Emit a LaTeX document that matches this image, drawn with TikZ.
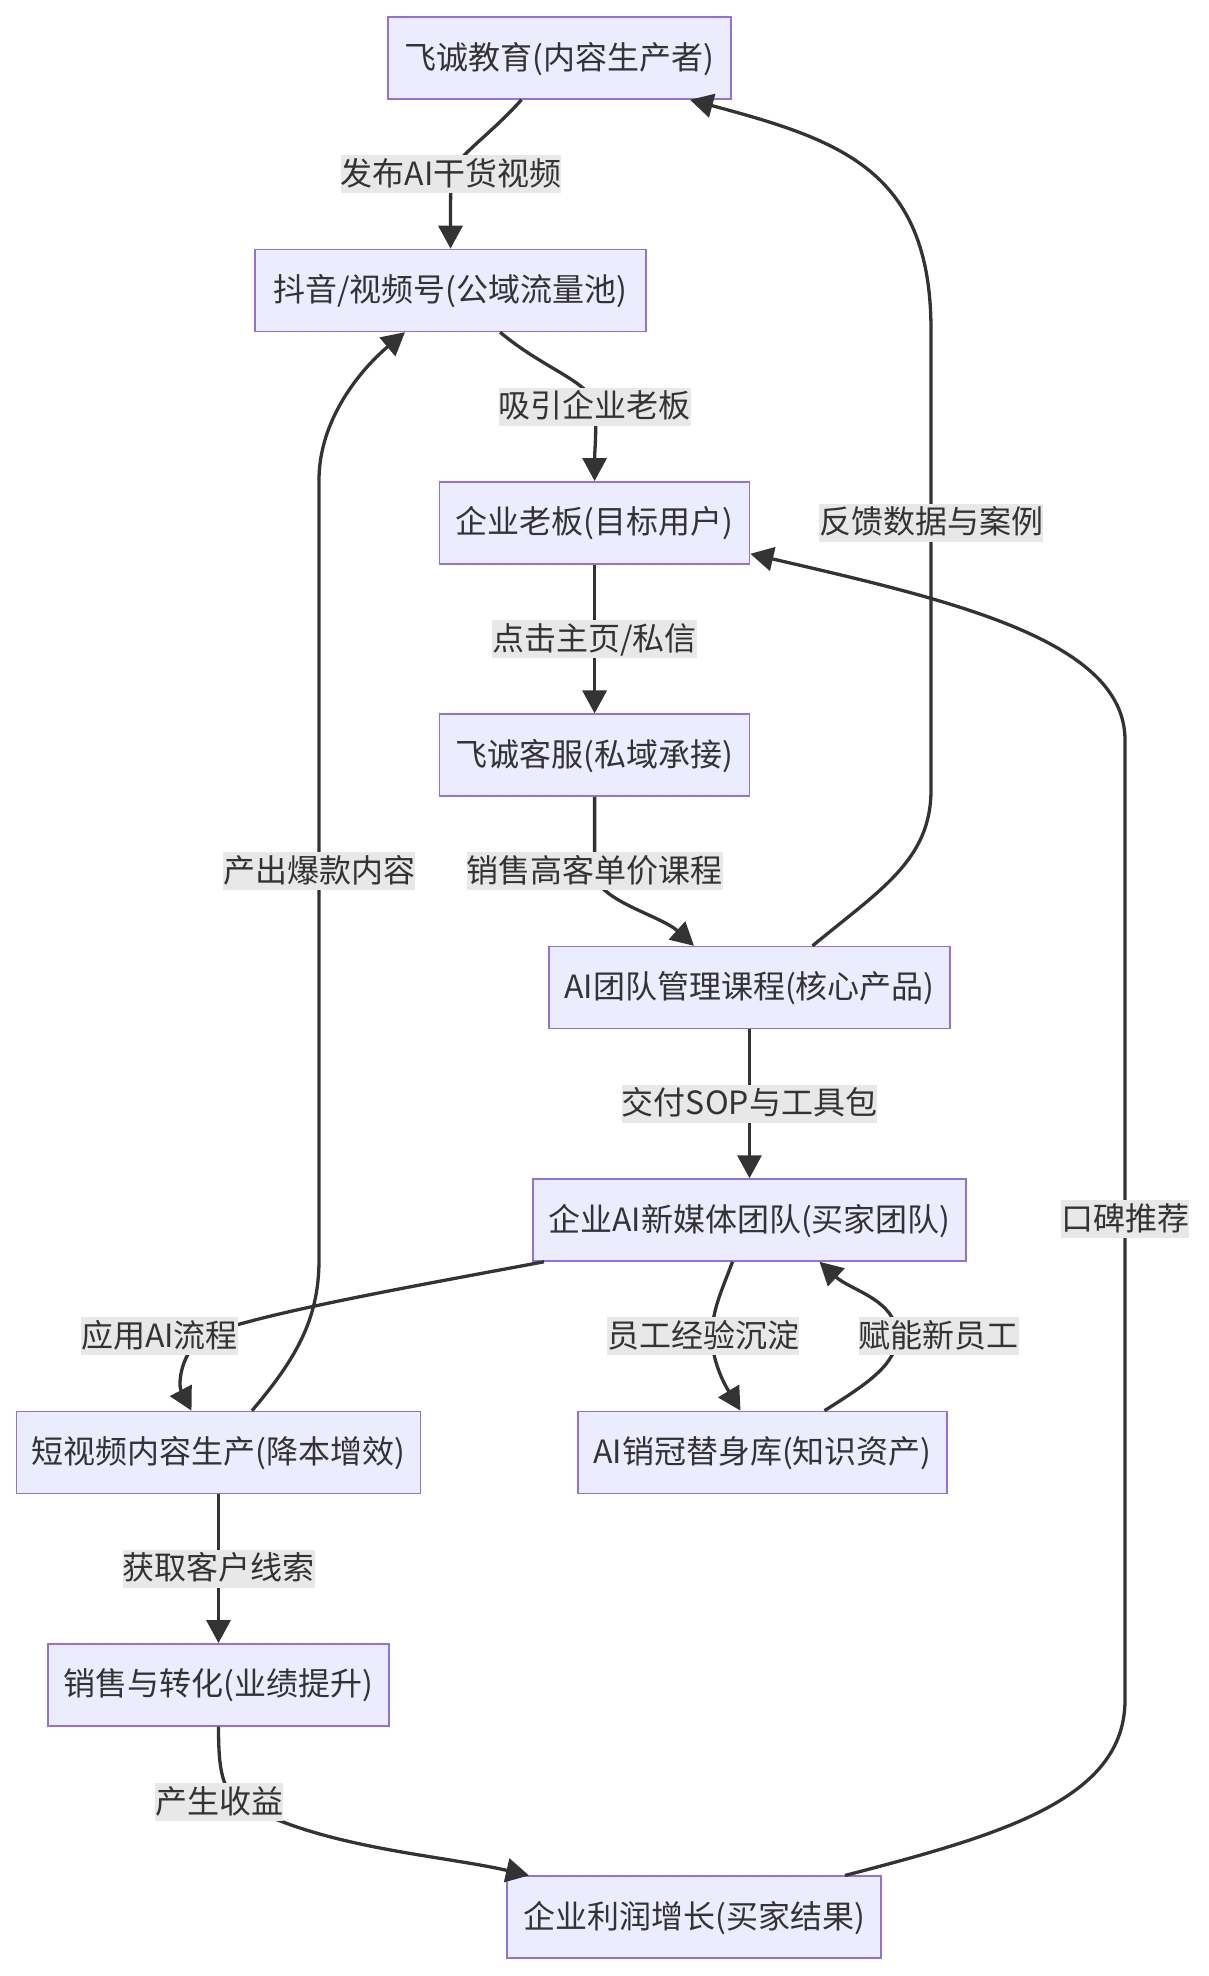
\documentclass[tikz,border=0pt]{standalone}
\usepackage{fontspec}
\setmainfont{Noto Sans CJK SC}
\usetikzlibrary{arrows.meta}
\definecolor{boxfill}{HTML}{ECECFF}
\definecolor{boxline}{HTML}{9370DB}
\definecolor{inkline}{HTML}{333333}
\definecolor{tagfill}{HTML}{E8E8E8}
\newcommand{\flowfont}{\fontsize{32pt}{38pt}\selectfont}

\begin{document}
\begin{tikzpicture}[
	x=1pt, y=-1pt,
	stage/.style={ draw=boxline, fill=boxfill, line width=1.5pt, minimum height=82pt, inner sep=0pt, text=inkline, font=\flowfont, text height=27pt, text depth=5pt },
	tag/.style={ fill=tagfill, inner xsep=0pt, inner ysep=3pt, text=inkline, font=\flowfont, text height=27pt, text depth=5pt },
	flow/.style={ draw=inkline, line width=3.3pt, -{Triangle[length=23pt,width=24pt]} }
]
\useasboundingbox (0,0) rectangle (1208,1976);

\node at (559.5,58) (feicheng) [stage,minimum width=343pt] {飞诚教育(内容生产者)};
\node at (450.5,290.4) (douyin) [stage,minimum width=391pt] {抖音/视频号(公域流量池)};
\node at (594.6,522.8) (boss) [stage,minimum width=310pt] {企业老板(目标用户)};
\node at (594.6,755.2) (service) [stage,minimum width=310pt] {飞诚客服(私域承接)};
\node at (749.5,987.6) (course) [stage,minimum width=401pt] {AI团队管理课程(核心产品)};
\node at (749.5,1220) (team) [stage,minimum width=433pt] {企业AI新媒体团队(买家团队)};
\node at (218.5,1452.4) (video) [stage,minimum width=404pt] {短视频内容生产(降本增效)};
\node at (762.5,1452.4) (avatar) [stage,minimum width=369pt] {AI销冠替身库(知识资产)};
\node at (218.5,1684.8) (sales) [stage,minimum width=341pt] {销售与转化(业绩提升)};
\node at (694,1917.2) (profit) [stage,minimum width=374pt] {企业利润增长(买家结果)};

\draw[flow] ([xshift=-38pt]feicheng.south) .. controls (490,135) and (458,155) .. (451,174) node[tag] {发布AI干货视频} .. controls (450.5,195) and (450.5,215) .. (douyin.north);
\draw[flow] ([xshift=49.5pt]douyin.south) .. controls (545,370) and (592,382) .. (594.6,406.6) node[tag] {吸引企业老板} .. controls (597,430) and (594.6,450) .. (boss.north);
\draw[flow] (boss) -- node[tag] {点击主页/私信} (service);
\draw[flow] (service.south) .. controls (594.6,830) and (594.6,850) .. (594.6,871.4) node[tag] {销售高客单价课程} .. controls (594.6,900) and (660,915) .. ([xshift=-55.5pt]course.north);
\draw[flow] ([xshift=63pt]course.north) .. controls (880,890) and (931,860) .. (931,790) -- (931,522.8) node[tag] {反馈数据与案例} -- (931,330) .. controls (931,170) and (840,140) .. ([xshift=130.5pt]feicheng.south);
\draw[flow] (course) -- node[tag] {交付SOP与工具包} (team);
\draw[flow] ([xshift=-205.5pt]team.south) .. controls (420,1285) and (250,1315) .. (205,1336) node[tag,xshift=-45.5pt] {应用AI流程} .. controls (180,1352) and (178,1385) .. ([xshift=-27pt]video.north);
\draw[flow] ([xshift=33.5pt]video.north) .. controls (295,1360) and (319,1320) .. (319,1260) -- (319,871.4) node[tag] {产出爆款内容} -- (319,480) .. controls (319,420) and (360,370) .. ([xshift=-45.5pt]douyin.south);
\draw[flow] ([xshift=-17pt]team.south) .. controls (722,1290) and (712,1310) .. (712,1336) node[tag,xshift=-9pt] {员工经验沉淀} .. controls (712,1365) and (728,1390) .. ([xshift=-22pt]avatar.north);
\draw[flow] ([xshift=62pt]avatar.north) .. controls (865,1385) and (897,1365) .. (897,1336) node[tag,xshift=41.5pt] {赋能新员工} .. controls (897,1300) and (850,1290) .. ([xshift=70pt]team.south);
\draw[flow] (video) -- node[tag] {获取客户线索} (sales);
\draw[flow] (sales.south) .. controls (218.5,1770) and (222,1790) .. (240,1802) node[tag,xshift=-21pt] {产生收益} .. controls (320,1848) and (440,1855) .. ([xshift=-165pt]profit.north);
\draw[flow] ([xshift=151pt]profit.north) .. controls (1000,1835) and (1125,1800) .. (1125,1700) -- (1125,1219) node[tag] {口碑推荐} -- (1125,740) .. controls (1125,640) and (950,600) .. ([yshift=-31pt]boss.east);

\end{tikzpicture}
\end{document}
